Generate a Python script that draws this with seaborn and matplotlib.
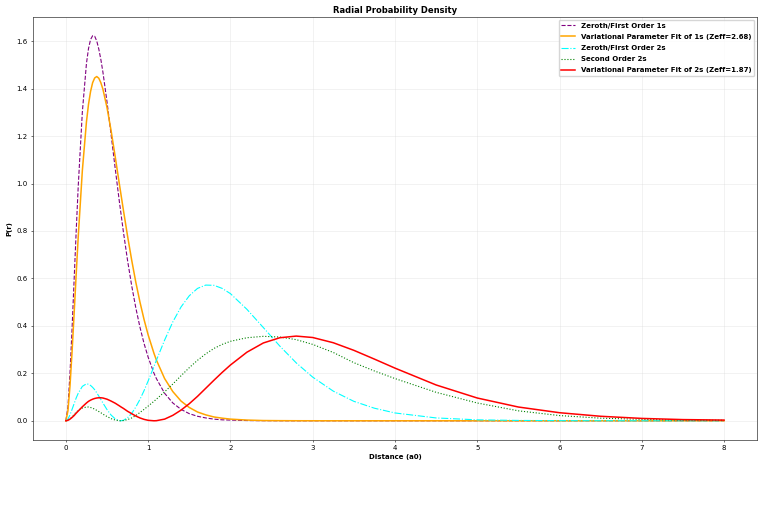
import matplotlib
matplotlib.use("Agg")
import matplotlib.pyplot as plt
import seaborn as sns

# distance grid (a0)
r = [0, 0.025, 0.05, 0.075, 0.1, 0.125, 0.15, 0.2, 0.25, 0.275,
     0.3, 0.325, 0.35, 0.375, 0.4, 0.425, 0.45, 0.5, 0.55, 0.6,
     0.65, 0.667, 0.7, 0.75, 0.8, 0.85, 0.9, 0.95, 1.0, 1.07,
     1.1, 1.2, 1.3, 1.4, 1.5, 1.6, 1.7, 1.8, 1.9, 2.0,
     2.2, 2.4, 2.6, 2.8, 3.0, 3.25, 3.5, 3.75, 4.0, 4.5,
     5.0, 5.5, 6.0, 6.5, 7.0, 7.5, 8.0]

# radial probability densities
p_1s_zeroth = [0, 0.058, 0.200, 0.387, 0.593, 0.797, 0.988, 1.301, 1.506, 1.569,
               1.607, 1.623, 1.621, 1.601, 1.567, 1.523, 1.470, 1.344, 1.205, 1.062,
               0.924, 0.880, 0.794, 0.675, 0.569, 0.476, 0.395, 0.326, 0.268, 0.201,
               0.178, 0.116, 0.075, 0.048, 0.030, 0.019, 0.012, 0.007, 0.004, 0.003,
               0.001, 0.0004, 0.0001, 0, 0, 0, 0, 0, 0, 0,
               0, 0, 0, 0, 0, 0, 0]
p_1s_var = [0, 0.042, 0.147, 0.290, 0.451, 0.616, 0.775, 1.054, 1.260, 1.334,
            1.388, 1.425, 1.445, 1.451, 1.444, 1.425, 1.398, 1.320, 1.222, 1.112,
            0.998, 0.960, 0.886, 0.778, 0.677, 0.584, 0.501, 0.427, 0.362, 0.285,
            0.256, 0.178, 0.123, 0.083, 0.056, 0.037, 0.025, 0.016, 0.011, 0.007,
            0.003, 0.001, 0.0005, 0.0002, 0.0001, 0, 0, 0, 0, 0,
            0, 0, 0, 0, 0, 0, 0]
p_2s_zeroth = [0, 0.007, 0.025, 0.048, 0.072, 0.096, 0.116, 0.145, 0.156, 0.154,
               0.149, 0.141, 0.131, 0.118, 0.104, 0.090, 0.075, 0.047, 0.024, 0.008,
               0.0005, 0, 0.002, 0.013, 0.031, 0.058, 0.090, 0.127, 0.168, 0.228,
               0.255, 0.340, 0.417, 0.480, 0.527, 0.558, 0.572, 0.571, 0.558, 0.536,
               0.470, 0.393, 0.315, 0.244, 0.184, 0.125, 0.082, 0.053, 0.033, 0.012,
               0.004, 0.0015, 0.0005, 0.0002, 0, 0, 0]
p_2s_second = [0, 0.002, 0.008, 0.017, 0.027, 0.036, 0.044, 0.054, 0.058, 0.058,
               0.056, 0.053, 0.049, 0.044, 0.039, 0.034, 0.028, 0.018, 0.009, 0.003,
               0.0003, 0, 0.001, 0.005, 0.012, 0.022, 0.035, 0.048, 0.062, 0.082,
               0.091, 0.122, 0.155, 0.190, 0.224, 0.255, 0.282, 0.305, 0.322, 0.335,
               0.350, 0.356, 0.353, 0.342, 0.322, 0.288, 0.245, 0.210, 0.178, 0.120,
               0.075, 0.042, 0.022, 0.011, 0.006, 0.003, 0.002]
p_2s_var = [0, 0.002, 0.007, 0.014, 0.022, 0.032, 0.041, 0.059, 0.075, 0.082,
            0.087, 0.091, 0.094, 0.096, 0.097, 0.097, 0.096, 0.091, 0.083, 0.074,
            0.063, 0.059, 0.052, 0.040, 0.030, 0.020, 0.012, 0.006, 0.002, 0,
            0.0004, 0.007, 0.023, 0.045, 0.072, 0.103, 0.137, 0.171, 0.204, 0.235,
            0.289, 0.328, 0.350, 0.357, 0.351, 0.329, 0.297, 0.260, 0.222, 0.151,
            0.096, 0.058, 0.034, 0.019, 0.010, 0.005, 0.003]

fig = plt.figure(figsize=(7.65, 5.23), dpi=100)
ax = fig.add_axes([0.0431, 0.1587, 0.9464, 0.8088])

sns.lineplot(x=r, y=p_1s_zeroth, color="purple", linestyle="--", linewidth=0.8,
             label="Zeroth/First Order 1s", estimator=None, ax=ax)
sns.lineplot(x=r, y=p_1s_var, color="orange", linestyle="-", linewidth=1.1,
             label="Variational Parameter Fit of 1s (Zeff=2.68)", estimator=None, ax=ax)
sns.lineplot(x=r, y=p_2s_zeroth, color="cyan", linestyle="-.", linewidth=0.8,
             label="Zeroth/First Order 2s", estimator=None, ax=ax)
sns.lineplot(x=r, y=p_2s_second, color="green", linestyle=":", linewidth=0.8,
             label="Second Order 2s", estimator=None, ax=ax)
sns.lineplot(x=r, y=p_2s_var, color="red", linestyle="-", linewidth=1.1,
             label="Variational Parameter Fit of 2s (Zeff=1.87)", estimator=None, ax=ax)

ax.set_xlim(-0.4, 8.4)
ax.set_ylim(-0.081, 1.702)
ax.set_xticks(range(0, 9))
ax.set_yticks([0.0, 0.2, 0.4, 0.6, 0.8, 1.0, 1.2, 1.4, 1.6])
ax.tick_params(labelsize=5, length=1.75, width=0.4, pad=2)
for s in ax.spines.values():
    s.set_linewidth(0.5)
    s.set_color("#333333")

ax.set_title("Radial Probability Density", fontsize=6, fontweight="bold", pad=3)
ax.set_xlabel("Distance (a0)", fontsize=5, fontweight="bold", labelpad=2)
ax.set_ylabel("P(r)", fontsize=5, fontweight="bold", labelpad=3)
ax.grid(True, color="lightgray", alpha=0.5, linewidth=0.4)
ax.legend(loc="upper right", prop={"size": 5, "weight": "bold"},
          borderaxespad=0.4, labelspacing=0.75, framealpha=0.8, edgecolor="#cccccc")

fig.savefig("out.png", dpi=100)
